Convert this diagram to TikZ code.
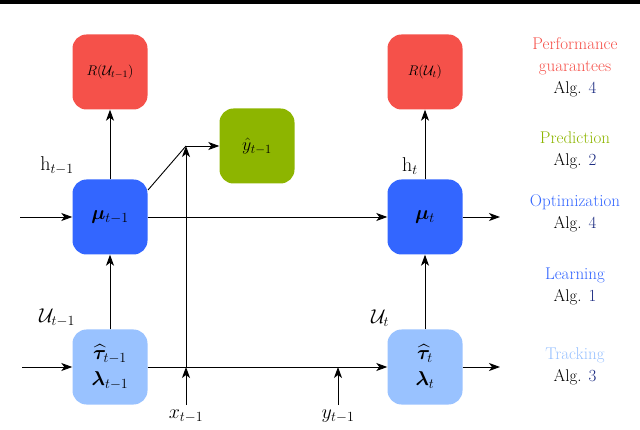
\RequirePackage{fix-cm}
\documentclass[tikz,border=0pt]{standalone}
\usepackage{amsmath,bm}
\usepackage{fontspec}
\usetikzlibrary{arrows.meta}
\definecolor{cred}{HTML}{F5514A}
\definecolor{cgreen}{HTML}{8DB500}
\definecolor{cblue}{HTML}{3366FF}
\definecolor{clblue}{HTML}{99C2FF}
\definecolor{cdark}{HTML}{1A2A80}
\begin{document}
\begin{tikzpicture}[x=1pt,y=-1pt,
  box/.style={minimum width=75pt,minimum height=75pt,rounded corners=14pt,inner sep=0pt,font=\fontsize{14}{16}\selectfont},
  big/.style={font=\fontsize{20}{26}\selectfont,align=center},
  arr/.style={-{Stealth[length=11pt,width=8pt,inset=3pt]},line width=0.9pt},
  ln/.style={line width=0.9pt},
  lab/.style={font=\fontsize{20}{22}\selectfont},
  side/.style={font=\fontsize{17}{22}\selectfont,align=center}]
\useasboundingbox (0,0) rectangle (640,430);
\fill[black] (0,0) rectangle (640,4);
\node[box,fill=cred] (r1) at (110,72) {$R(\mathcal{U}_{t-1})$};
\node[box,fill=cred] (r2) at (425,72) {$R(\mathcal{U}_{t})$};
\node[box,fill=cgreen,font=\fontsize{18}{20}\selectfont] (g) at (257,146) {$\hat y_{t-1}$};
\node[box,fill=cblue,big] (b1) at (110,217) {$\bm\mu_{t-1}$};
\node[box,fill=cblue,big] (b2) at (425,217) {$\bm\mu_{t}$};
\node[box,fill=clblue,big] (l1) at (110,367) {$\widehat{\bm\tau}_{t-1}$\\$\bm\lambda_{t-1}$};
\node[box,fill=clblue,big] (l2) at (425,367) {$\widehat{\bm\tau}_{t}$\\$\bm\lambda_{t}$};
% horizontal flows
\coordinate (ib) at (20,217); \coordinate (ob) at (500,217);
\coordinate (il) at (22,367); \coordinate (ol) at (500,367);
\draw[arr] (ib) -- (b1.west);
\draw[arr] (b1.east) -- (b2.west);
\draw[arr] (b2.east) -- (ob);
\draw[arr] (il) -- (l1.west);
\draw[arr] (l1.east) -- (l2.west);
\draw[arr] (l2.east) -- (ol);
% vertical
\draw[arr] (l1.north) -- (b1.south);
\draw[arr] (b1.north) -- (r1.south);
\draw[arr] (l2.north) -- (b2.south);
\draw[arr] (b2.north) -- (r2.south);
% x input
\coordinate (xb) at (186,405); \coordinate (xt) at (186,367); \coordinate (xp) at (186,146);
\draw[arr] (xb) -- (xt);
\draw[arr] (xt) -- (xp);
\coordinate (bc) at (148,190);
\draw[ln] (bc) -- (xp);
\draw[arr] (xp) -- (g.west);
\coordinate (yb) at (338,405); \coordinate (yt) at (338,367);
\draw[arr] (yb) -- (yt);
\node[lab] (xl) at (186,416) {$x_{t-1}$};
\node[lab] (yl) at (338,416) {$y_{t-1}$};
\node[lab] (h1) at (57,166) {$\mathrm{h}_{t-1}$};
\node[lab] (h2) at (410,166) {$\mathrm{h}_{t}$};
\node[lab] (u1) at (57,318) {$\mathcal{U}_{t-1}$};
\node[lab] (u2) at (380,318) {$\mathcal{U}_{t}$};
% side labels
\node[side] (s1) at (575,67) {\textcolor{cred}{Performance}\\\textcolor{cred}{guarantees}\\Alg. \textcolor{cdark}{4}};
\node[side] (s2) at (575,150) {\textcolor{cgreen}{Prediction}\\Alg. \textcolor{cdark}{2}};
\node[side] (s3) at (575,213) {\textcolor{cblue}{Optimization}\\Alg. \textcolor{cdark}{4}};
\node[side] (s4) at (575,286) {\textcolor{cblue}{Learning}\\Alg. \textcolor{cdark}{1}};
\node[side] (s5) at (575,366) {\textcolor{clblue}{Tracking}\\Alg. \textcolor{cdark}{3}};
\end{tikzpicture}
\end{document}
